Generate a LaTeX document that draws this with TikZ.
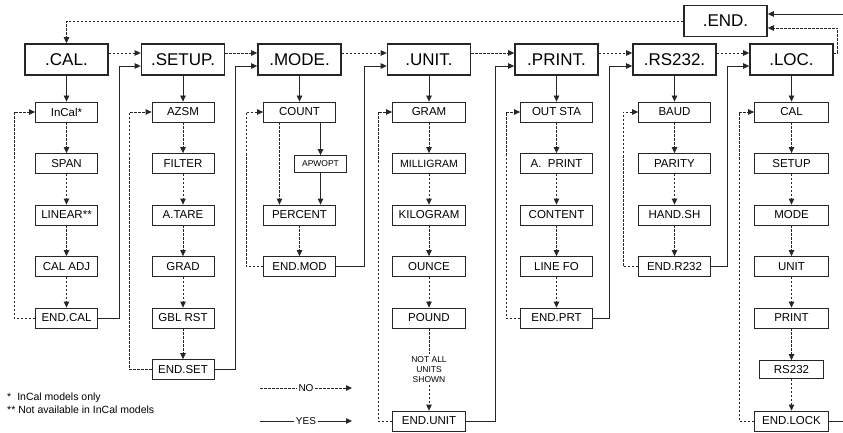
\documentclass[tikz,border=0pt]{standalone}
\usepackage{fontspec}
\setmainfont{Liberation Sans}
\usetikzlibrary{positioning,calc,arrows.meta}
\colorlet{linegray}{black!85}

\begin{document}
\begin{tikzpicture}[x=1pt, y=-1pt, on grid, node distance=51.5pt,
  menu/.style={draw=linegray, line width=1.6pt, minimum width=83pt, minimum height=31pt, inner sep=0pt, font=\fontsize{17}{17}\selectfont},
  item/.style={draw=linegray, line width=0.8pt, minimum width=#1, minimum height=20pt, inner sep=0pt, font=\fontsize{11.5}{11.5}\selectfont},
  item/.default=62pt,
  yes-path/.style={draw=linegray, line width=0.8pt, -{Triangle[length=6pt,width=5.5pt]}},
  no-path/.style={yes-path, dash pattern=on 2.5pt off 1.5pt},
  note/.style={inner sep=2pt, align=center, font=\fontsize{8.5}{10}\selectfont},
  legend/.style={inner sep=1.5pt, font=\fontsize{10}{10}\selectfont},
  footnote/.style={inner sep=0pt, anchor=west, font=\fontsize{10.5}{10.5}\selectfont}]

\useasboundingbox (0,0) rectangle (843,433);

% MENUS

\node[menu] (cal) at (66.5,59.5) {.CAL.};
\node[menu] (setup) at (183,59.5) {.SETUP.};
\node[menu] (mode) at (299.5,59.5) {.MODE.};
\node[menu] (unit) at (429,59.5) {.UNIT.};
\node[menu] (print) at (556.5,59.5) {.PRINT.};
\node[menu] (rs) at (674.5,59.5) {.RS232.};
\node[menu] (loc) at (791.5,59.5) {.LOC.};
\node[menu] (end-menu) at (725.5,21) {.END.};

% CAL

\node[item, below=52.5pt of cal] (cal-incal) {InCal*};
\node[item, below=of cal-incal] (cal-span) {SPAN};
\node[item, below=of cal-span] (cal-linear) {LINEAR**};
\node[item, below=of cal-linear] (cal-adj) {CAL ADJ};
\node[item, below=of cal-adj] (cal-end) {END.CAL};

% SETUP

\node[item, below=52.5pt of setup] (setup-azsm) {AZSM};
\node[item, below=of setup-azsm] (setup-filter) {FILTER};
\node[item, below=of setup-filter] (setup-atare) {A.TARE};
\node[item, below=of setup-atare] (setup-grad) {GRAD};
\node[item, below=of setup-grad] (setup-gblrst) {GBL RST};
\node[item, below=of setup-gblrst] (setup-end) {END.SET};

% MODE

\node[item=72pt, below=52.5pt of mode] (mode-count) {COUNT};
\node[item=52pt, minimum height=17pt, font=\fontsize{8.5}{8.5}\selectfont, below right=52pt and 21pt of mode-count] (mode-apwopt) {APWOPT};
\node[item=72pt, below=103pt of mode-count] (mode-percent) {PERCENT};
\node[item=72pt, below=of mode-percent] (mode-end) {END.MOD};

% UNIT

\node[item=73pt, below=52.5pt of unit] (unit-gram) {GRAM};
\node[item=73pt, below=of unit-gram, font=\fontsize{10.5}{10.5}\selectfont] (unit-milligram) {MILLIGRAM};
\node[item=73pt, below=of unit-milligram] (unit-kilogram) {KILOGRAM};
\node[item=73pt, below=of unit-kilogram] (unit-ounce) {OUNCE};
\node[item=73pt, below=of unit-ounce] (unit-pound) {POUND};
\node[note, below=of unit-pound] (unit-note) {NOT ALL\\UNITS\\SHOWN};
\node[item=73pt, below=103pt of unit-pound] (unit-end) {END.UNIT};

% PRINT

\node[item=72pt, below=52.5pt of print] (print-outsta) {OUT STA};
\node[item=72pt, below=of print-outsta] (print-aprint) {A.\ \ PRINT};
\node[item=72pt, below=of print-aprint] (print-content) {CONTENT};
\node[item=72pt, below=of print-content] (print-linefo) {LINE FO};
\node[item=72pt, below=of print-linefo] (print-end) {END.PRT};

% RS232

\node[item=72pt, below=52.5pt of rs] (rs-baud) {BAUD};
\node[item=72pt, below=of rs-baud] (rs-parity) {PARITY};
\node[item=72pt, below=of rs-parity] (rs-handsh) {HAND.SH};
\node[item=72pt, below=of rs-handsh] (rs-end) {END.R232};

% LOC

\node[item=74pt, below=52.5pt of loc] (loc-cal) {CAL};
\node[item=74pt, below=of loc-cal] (loc-setup) {SETUP};
\node[item=74pt, below=of loc-setup] (loc-mode) {MODE};
\node[item=74pt, below=of loc-mode] (loc-unit) {UNIT};
\node[item=74pt, below=of loc-unit] (loc-print) {PRINT};
\node[item=64pt, minimum height=18pt, below=of loc-print] (loc-rs) {RS232};
\node[item=74pt, below=of loc-rs] (loc-end) {END.LOCK};

% NO BETWEEN MENUS

\draw[no-path] ([yshift=6.5pt]cal.east) -- ([yshift=6.5pt]setup.west);
\draw[no-path] ([yshift=6.5pt]setup.east) -- ([yshift=6.5pt]mode.west);
\draw[no-path] ([yshift=6.5pt]mode.east) -- ([yshift=6.5pt]unit.west);
\draw[no-path] ([yshift=6.5pt]unit.east) -- ([yshift=6.5pt]print.west);
\draw[no-path] ([yshift=6.5pt]print.east) -- ([yshift=6.5pt]rs.west);
\draw[no-path] ([yshift=6.5pt]rs.east) -- ([yshift=6.5pt]loc.west);
\draw[no-path] ([yshift=6.5pt]loc.east) -- ++(4,0) |- ([yshift=-7pt]end-menu.east);
\draw[no-path] (end-menu.west) -| (cal.north);

% YES INTO MENUS

\draw[yes-path] (cal) -- (cal-incal);
\draw[yes-path] (setup) -- (setup-azsm);
\draw[yes-path] (mode) -- (mode-count);
\draw[yes-path] (unit) -- (unit-gram);
\draw[yes-path] (print) -- (print-outsta);
\draw[yes-path] (rs) -- (rs-baud);
\draw[yes-path] (loc) -- (loc-cal);

% CAL LINKS

\draw[no-path] (cal-incal) -- (cal-span);
\draw[no-path] (cal-span) -- (cal-linear);
\draw[no-path] (cal-linear) -- (cal-adj);
\draw[no-path] (cal-adj) -- (cal-end);
\draw[no-path] (cal-end.west) -- ++(-21,0) |- (cal-incal.west);
\draw[yes-path] (cal-end.east) -- ++(21,0) |- ([yshift=-6.5pt]setup.west);

% SETUP LINKS

\draw[no-path] (setup-azsm) -- (setup-filter);
\draw[no-path] (setup-filter) -- (setup-atare);
\draw[no-path] (setup-atare) -- (setup-grad);
\draw[no-path] (setup-grad) -- (setup-gblrst);
\draw[no-path] (setup-gblrst) -- (setup-end);
\draw[no-path] (setup-end.west) -- ++(-22,0) |- (setup-azsm.west);
\draw[yes-path] (setup-end.east) -- ++(21,0) |- ([yshift=-6.5pt]mode.west);

% MODE LINKS

\draw[no-path] ([xshift=-20pt]mode-count.south) -- ([xshift=-20pt]mode-percent.north);
\draw[yes-path] (mode-count.south -| mode-apwopt) -- (mode-apwopt);
\draw[yes-path] (mode-apwopt) -- (mode-apwopt |- mode-percent.north);
\draw[no-path] (mode-percent) -- (mode-end);
\draw[no-path] (mode-end.west) -- ++(-17,0) |- (mode-count.west);
\draw[yes-path] (mode-end.east) -- ++(28,0) |- ([yshift=-6.5pt]unit.west);

% UNIT LINKS

\draw[no-path] (unit-gram) -- (unit-milligram);
\draw[no-path] (unit-milligram) -- (unit-kilogram);
\draw[no-path] (unit-kilogram) -- (unit-ounce);
\draw[no-path] (unit-ounce) -- (unit-pound);
\draw[no-path, -] (unit-pound) -- (unit-note);
\draw[no-path] (unit-note) -- (unit-end);
\draw[no-path] (unit-end.west) -- ++(-14,0) |- (unit-gram.west);
\draw[yes-path] (unit-end.east) -- ++(29,0) |- ([yshift=-6.5pt]print.west);

% PRINT LINKS

\draw[no-path] (print-outsta) -- (print-aprint);
\draw[no-path] (print-aprint) -- (print-content);
\draw[no-path] (print-content) -- (print-linefo);
\draw[no-path] (print-linefo) -- (print-end);
\draw[no-path] (print-end.west) -- ++(-14,0) |- (print-outsta.west);
\draw[yes-path] (print-end.east) -- ++(16,0) |- ([yshift=-6.5pt]rs.west);

% RS232 LINKS

\draw[no-path] (rs-baud) -- (rs-parity);
\draw[no-path] (rs-parity) -- (rs-handsh);
\draw[no-path] (rs-handsh) -- (rs-end);
\draw[no-path] (rs-end.west) -- ++(-15,0) |- (rs-baud.west);
\draw[yes-path] (rs-end.east) -- ++(16,0) |- ([yshift=-6.5pt]loc.west);

% LOC LINKS

\draw[no-path] (loc-cal) -- (loc-setup);
\draw[no-path] (loc-setup) -- (loc-mode);
\draw[no-path] (loc-mode) -- (loc-unit);
\draw[no-path] (loc-unit) -- (loc-print);
\draw[no-path] (loc-print) -- (loc-rs);
\draw[no-path] (loc-rs) -- (loc-end);
\draw[no-path] (loc-end.west) -- ++(-15,0) |- (loc-cal.west);
\draw[yes-path] (loc-end.east) -- ++(25,0) |- ([yshift=7pt]end-menu.east);

% LEGEND

\node[legend] (legend-no) at (306,388) {NO};
\coordinate (legend-no-a) at (260,388);
\coordinate (legend-no-b) at (352,388);
\draw[no-path, -] (legend-no-a) -- (legend-no);
\draw[no-path] (legend-no) -- (legend-no-b);

\node[legend] (legend-yes) at (306,421) {YES};
\coordinate (legend-yes-a) at (260,421);
\coordinate (legend-yes-b) at (352,421);
\draw[yes-path, -] (legend-yes-a) -- (legend-yes);
\draw[yes-path] (legend-yes) -- (legend-yes-b);

% NOTES

\node[footnote] (note-star) at (7,398) {*\hspace{6pt}InCal models only};
\node[footnote] (note-stars) at (7,410) {** Not available in InCal models};

\end{tikzpicture}
\end{document}
